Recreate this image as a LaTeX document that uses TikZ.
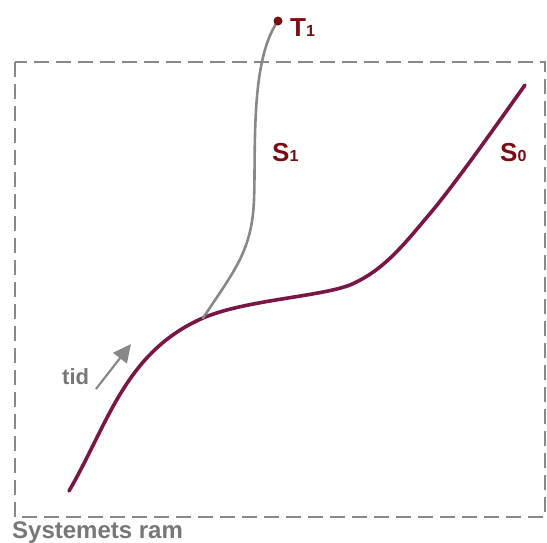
\documentclass[tikz,border=0pt]{standalone}
\usepackage{fontspec}
\setmainfont{Liberation Sans}
\usetikzlibrary{arrows.meta}
\definecolor{curvec}{HTML}{7A1646}
\definecolor{labc}{HTML}{7A0C14}
\definecolor{grayc}{HTML}{888888}
\definecolor{textg}{HTML}{777777}
\tikzset{
  frame/.style={draw=grayc, line width=2.5pt, dash pattern=on 15pt off 7pt},
  main/.style={draw=curvec, line width=3.6pt, line cap=round},
  branch/.style={draw=grayc, line width=2.6pt, line cap=round},
  lab/.style={text=labc, font=\bfseries\fontsize{26}{28}\selectfont, inner sep=0pt, anchor=base west},
  gtext/.style={text=textg, font=\bfseries, inner sep=0pt, anchor=base west},
}
\newcommand{\sublab}[2]{#1{\fontsize{16}{18}\selectfont #2}}
\begin{document}
\begin{tikzpicture}[x=1pt,y=-1pt]
\useasboundingbox (0,0) rectangle (547,542);
\draw[frame] (15,62) rectangle (545,517);
\coordinate (s0a) at (69,491);
\coordinate (br) at (203,318);
\coordinate (pl) at (350,285);
\coordinate (mid) at (433,210);
\coordinate (s0b) at (525,85);
\coordinate (t1) at (278,21);
\coordinate (bm) at (254,200);
\draw[main] (s0a) .. controls (108,424) and (125,352) .. (br)
  .. controls (245,300) and (318,297) .. (pl)
  .. controls (385,270) and (405,243) .. (mid)
  .. controls (460,177) and (500,120) .. (s0b);
\draw[branch] (br) .. controls (235,270) and (252,250) .. (bm)
  .. controls (256,150) and (250,60) .. (t1);
\node[circle, fill=labc, inner sep=0pt, minimum size=9pt] (dot) at (t1) {};
\node[lab] (T1) at (290,36) {\sublab{T}{1}};
\node[lab] (S1) at (272,161) {\sublab{S}{1}};
\node[lab] (S0) at (500,161) {\sublab{S}{0}};
\node[gtext, font=\bfseries\fontsize{22}{24}\selectfont] (tid) at (62,384) {tid};
\coordinate (ta) at (96,389);
\coordinate (tb) at (131,344);
\draw[draw=grayc, line width=2.2pt, -{Triangle[length=18pt, width=17pt]}] (ta) -- (tb);
\node[gtext, font=\bfseries\fontsize{24}{26}\selectfont] (ram) at (12,538) {Systemets ram};
\end{tikzpicture}
\end{document}
